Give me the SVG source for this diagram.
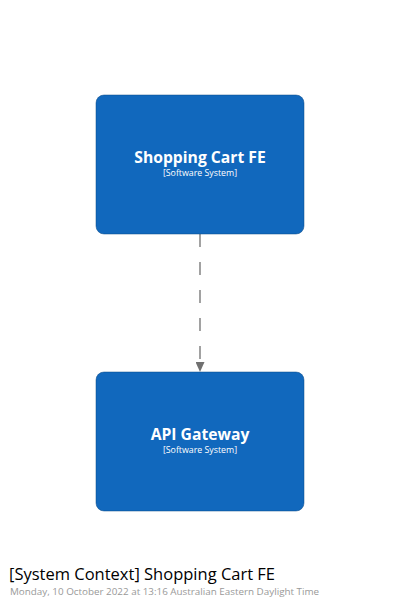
<svg xmlns="http://www.w3.org/2000/svg" width="400" height="607" viewBox="0 0 400 607">
<style>
.box{fill:#1168bd;stroke:#0b4884;stroke-width:0.5}
.name{font-family:"Open Sans",sans-serif;font-weight:bold;font-size:15.7px;fill:#ffffff;text-anchor:middle}
.meta{font-family:"Open Sans",sans-serif;font-size:8.8px;fill:#ffffff;text-anchor:middle}
.edge{stroke:#707070;stroke-width:1.3;fill:none;stroke-dasharray:13 15}
</style>
<defs>
<marker id="arr" markerWidth="10" markerHeight="9" refX="10" refY="4.5" orient="auto" markerUnits="userSpaceOnUse">
<path d="M0,0 L10,4.5 L0,9 Z" fill="#707070"/>
</marker>
</defs>
<rect width="400" height="607" fill="#ffffff"/>
<g id="connectors">
<path class="edge" d="M200,234 L200,372" marker-end="url(#arr)"/>
</g>
<g id="shopping-cart-fe">
<rect class="box" x="96" y="95" width="208" height="139" rx="8"/>
<text class="name" x="200" y="163">Shopping Cart FE</text>
<text class="meta" x="200" y="176">[Software System]</text>
</g>
<g id="api-gateway">
<rect class="box" x="96" y="372" width="208" height="139" rx="8"/>
<text class="name" x="200" y="440">API Gateway</text>
<text class="meta" x="200" y="453">[Software System]</text>
</g>
<g id="title">
<text x="9" y="580" font-family="'Open Sans',sans-serif" font-size="16.5" fill="#000000">[System Context] Shopping Cart FE</text>
<text x="10" y="595" font-family="'Open Sans',sans-serif" font-size="9.85" fill="#999999">Monday, 10 October 2022 at 13:16 Australian Eastern Daylight Time</text>
</g>
</svg>
